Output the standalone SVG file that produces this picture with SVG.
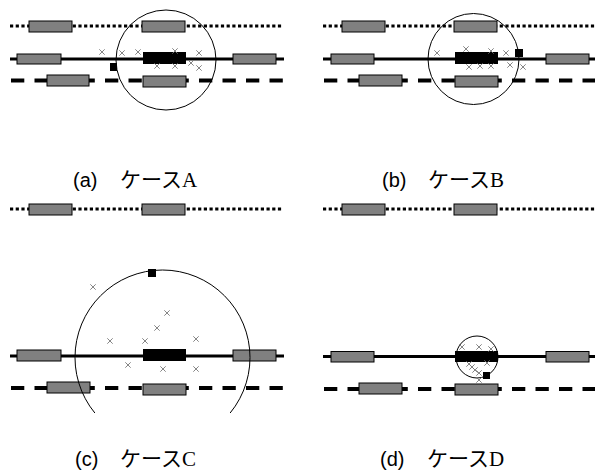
<svg xmlns="http://www.w3.org/2000/svg" xmlns:xlink="http://www.w3.org/1999/xlink" width="595" height="470" viewBox="0 0 595 470">
<style>
.dot{stroke:#000;stroke-width:3;stroke-dasharray:3.2 2.5;fill:none}
.sol{stroke:#000;stroke-width:3;fill:none}
.dash{stroke:#000;stroke-width:4;stroke-dasharray:13.3 10.2;fill:none}
.g{fill:#808080;stroke:#000;stroke-width:1}
.b{fill:#000}
.c{fill:none;stroke:#000;stroke-width:1}
.lab{font-family:"Liberation Sans",Arial,sans-serif;font-size:20px;fill:#000}
.jp{font-family:"Liberation Serif","Noto Sans CJK JP",serif;font-size:21px;fill:#000}
</style>
<defs>
<path id="x" d="M-2.7,-2.7L2.7,2.7M2.7,-2.7L-2.7,2.7" stroke="#777" stroke-width="0.9" fill="none"/>
<clipPath id="clipC"><rect x="0" y="0" width="300" height="413"/></clipPath>
</defs>

<g id="panelA">
<line class="dot" x1="10" y1="26" x2="283" y2="26"/>
<line class="sol" x1="10" y1="59" x2="284" y2="59"/>
<line class="dash" x1="11" y1="80.5" x2="283" y2="80.5"/>
<rect class="g" x="29" y="21" width="43" height="11"/>
<rect class="g" x="142" y="21" width="43" height="11"/>
<rect class="g" x="17" y="54" width="44" height="10"/>
<rect class="g" x="233" y="54" width="43" height="10"/>
<rect class="b" x="143" y="52" width="43" height="12"/>
<rect class="g" x="47" y="75" width="42" height="11"/>
<rect class="g" x="143" y="76" width="43" height="11"/>
<rect class="b" x="110" y="63" width="7" height="8"/>
<use xlink:href="#x" x="102" y="52"/><use xlink:href="#x" x="122" y="53"/><use xlink:href="#x" x="138" y="52"/>
<use xlink:href="#x" x="175" y="51"/><use xlink:href="#x" x="199" y="53"/><use xlink:href="#x" x="157" y="66"/>
<use xlink:href="#x" x="175" y="66"/><use xlink:href="#x" x="191" y="63"/><use xlink:href="#x" x="199" y="68"/>
<circle class="c" cx="166" cy="60" r="50"/>
<text x="73" y="187"><tspan class="lab">(a)</tspan><tspan class="jp" x="120">ケースA</tspan></text>
</g>

<g id="panelB">
<line class="dot" x1="323" y1="26" x2="595" y2="26"/>
<line class="sol" x1="323" y1="59" x2="595" y2="59"/>
<line class="dash" x1="324" y1="80.5" x2="595" y2="80.5"/>
<rect class="g" x="342" y="21" width="43" height="11"/>
<rect class="g" x="454" y="21" width="43" height="11"/>
<rect class="g" x="331" y="54" width="43" height="10"/>
<rect class="g" x="546" y="54" width="43" height="10"/>
<rect class="b" x="455" y="52" width="43" height="12"/>
<rect class="g" x="359" y="75" width="43" height="11"/>
<rect class="g" x="455" y="76" width="43" height="11"/>
<rect class="b" x="515" y="49" width="8" height="8"/>
<use xlink:href="#x" x="437" y="53"/><use xlink:href="#x" x="466" y="49"/><use xlink:href="#x" x="491" y="51"/>
<use xlink:href="#x" x="506" y="53"/><use xlink:href="#x" x="469" y="67"/><use xlink:href="#x" x="480" y="66"/>
<use xlink:href="#x" x="491" y="66"/><use xlink:href="#x" x="510" y="65"/><use xlink:href="#x" x="523" y="67"/>
<circle class="c" cx="473.5" cy="59" r="45.5"/>
<text x="382" y="187"><tspan class="lab">(b)</tspan><tspan class="jp" x="428">ケースB</tspan></text>
</g>

<g id="panelC">
<line class="dot" x1="10" y1="209" x2="283" y2="209"/>
<line class="sol" x1="10" y1="356" x2="284" y2="356"/>
<line class="dash" x1="11" y1="388" x2="283" y2="388"/>
<rect class="g" x="29" y="204" width="43" height="11"/>
<rect class="g" x="142" y="204" width="43" height="11"/>
<rect class="g" x="17" y="350" width="44" height="11"/>
<rect class="g" x="233" y="350" width="43" height="11"/>
<rect class="b" x="143" y="349" width="43" height="12"/>
<rect class="g" x="47" y="382" width="43" height="11"/>
<rect class="g" x="143" y="384" width="43" height="11"/>
<use xlink:href="#x" x="93" y="287"/><use xlink:href="#x" x="167" y="313"/><use xlink:href="#x" x="157" y="328"/>
<use xlink:href="#x" x="110" y="341"/><use xlink:href="#x" x="145" y="341"/><use xlink:href="#x" x="196" y="339"/>
<use xlink:href="#x" x="128" y="365"/><use xlink:href="#x" x="163" y="369"/><use xlink:href="#x" x="196" y="369"/>
<circle class="c" cx="162.5" cy="357.5" r="87.5" clip-path="url(#clipC)"/>
<rect class="b" x="148" y="269" width="8" height="8"/>
<text x="75" y="466"><tspan class="lab">(c)</tspan><tspan class="jp" x="120">ケースC</tspan></text>
</g>

<g id="panelD">
<line class="dot" x1="323" y1="209" x2="595" y2="209"/>
<line class="sol" x1="323" y1="356.5" x2="595" y2="356.5"/>
<line class="dash" x1="324" y1="389" x2="595" y2="389"/>
<rect class="g" x="342" y="204" width="43" height="11"/>
<rect class="g" x="454" y="204" width="43" height="11"/>
<rect class="g" x="331" y="351.5" width="43" height="10.5"/>
<rect class="g" x="546" y="351.5" width="43" height="10.5"/>
<rect class="b" x="455" y="351" width="43" height="11"/>
<rect class="g" x="359" y="383" width="43" height="11"/>
<rect class="g" x="455" y="384" width="43" height="11"/>
<circle class="c" cx="477" cy="357" r="21"/>
<use xlink:href="#x" x="462" y="347"/><use xlink:href="#x" x="479" y="347"/><use xlink:href="#x" x="491" y="349"/>
<use xlink:href="#x" x="487" y="363"/><use xlink:href="#x" x="469" y="364"/><use xlink:href="#x" x="472" y="367"/>
<use xlink:href="#x" x="475" y="370"/><use xlink:href="#x" x="479" y="373"/><use xlink:href="#x" x="479" y="380"/>
<rect class="b" x="483" y="372" width="7" height="7"/>
<text x="380" y="466"><tspan class="lab">(d)</tspan><tspan class="jp" x="427">ケースD</tspan></text>
</g>
</svg>
